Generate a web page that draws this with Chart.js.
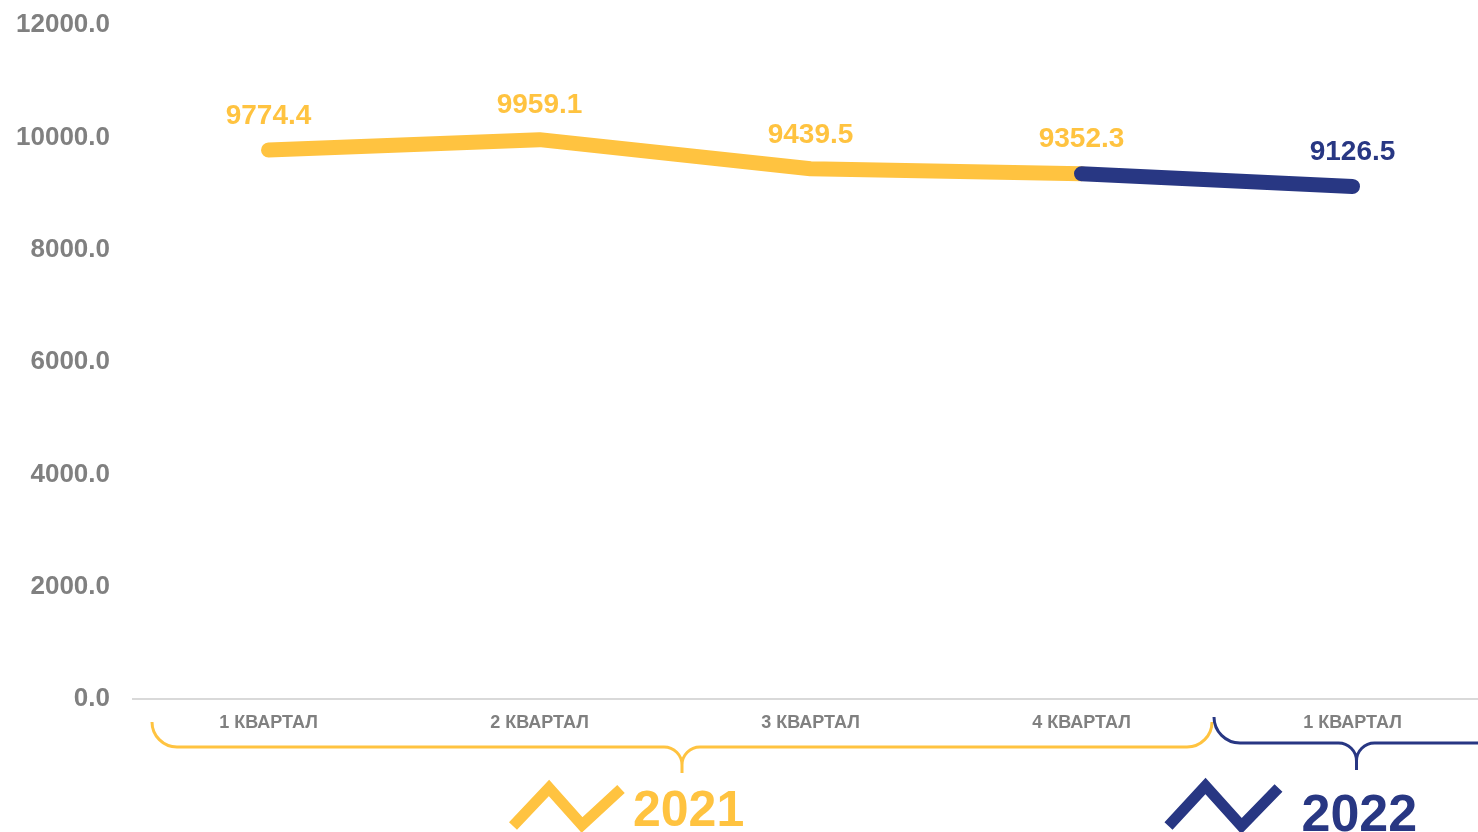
<!DOCTYPE html>
<html>
<head>
<meta charset="utf-8">
<script src="https://cdn.jsdelivr.net/npm/chart.js@4/dist/chart.umd.min.js"></script>
<style>
  html, body { margin: 0; padding: 0; background: #ffffff; overflow: hidden; }
  #wrap { width: 1478px; height: 832px; overflow: hidden; }
  canvas { display: block; }
</style>
</head>
<body>
<div id="wrap"><canvas id="c" width="1490" height="832"></canvas></div>
<script>
// ---- data ----
const categories = ['1 КВАРТАЛ', '2 КВАРТАЛ', '3 КВАРТАЛ', '4 КВАРТАЛ', '1 КВАРТАЛ'];
const values2021 = [9774.4, 9959.1, 9439.5, 9352.3, null];
const values2022 = [null, null, null, 9352.3, 9126.5];
const yMin = 0;
const yMax = 12000;
const yStep = 2000;
const years = ['2021', '2022'];
const yearFirstIndex = [0, 4];
const yearLastIndex = [3, 4];

// ---- styles ----
const YELLOW = '#FFC340';
const BLUE = '#283783';
const GRAY = '#808080';
const FONT = '"Liberation Sans", Arial, sans-serif';

const valueLabels = {
  id: 'valueLabels',
  afterDatasetsDraw(chart) {
    const ctx = chart.ctx;
    const done = {};
    ctx.save();
    ctx.font = 'bold 28px ' + FONT;
    ctx.textAlign = 'center';
    ctx.textBaseline = 'middle';
    chart.data.datasets.forEach((ds, di) => {
      const meta = chart.getDatasetMeta(di);
      ds.data.forEach((v, i) => {
        if (v === null || done[i]) return;
        done[i] = true;
        const pt = meta.data[i];
        ctx.fillStyle = ds.borderColor;
        ctx.fillText(v.toFixed(1), pt.x, pt.y - 34);
      });
    });
    ctx.restore();
  }
};

const yearBraces = {
  id: 'yearBraces',
  afterDraw(chart) {
    const ctx = chart.ctx;
    const xs = chart.scales.x;
    const base = chart.chartArea.bottom;
    const half = (xs.getPixelForValue(1) - xs.getPixelForValue(0)) / 2;
    const styles = [
      { color: YELLOW, inL: 19, inR: -5, openRight: false, top: 23, mid: 48, tip: 74, font: 50, tx: -49, by: 826,
        icon: [[-120, 0], [-84, -38], [-51, -1], [-12, -37]] },
      { color: BLUE, inL: -3, inR: 11, openRight: true, top: 18, mid: 44, tip: 71, font: 52, tx: -55, by: 831,
        icon: [[-133, -5], [-96, -45], [-60, -5], [-23, -43]] }
    ];
    years.forEach((yr, g) => {
      const s = styles[g];
      const L = xs.getPixelForValue(yearFirstIndex[g]) - half + s.inL;
      const R = xs.getPixelForValue(yearLastIndex[g]) + half + s.inR;
      const cx = (L + R) / 2;
      const yTop = base + s.top, yMid = base + s.mid, yTip = base + s.tip;
      const r = yMid - yTop, r2 = 18;
      ctx.save();
      ctx.strokeStyle = s.color;
      ctx.lineWidth = 3;
      ctx.lineCap = 'butt';
      ctx.beginPath();
      ctx.moveTo(L, yTop);
      ctx.arcTo(L, yMid, L + r, yMid, r);
      ctx.lineTo(cx - r2, yMid);
      ctx.arcTo(cx, yMid, cx, yMid + r2, r2);
      ctx.lineTo(cx, yTip);
      ctx.moveTo(cx, yTip);
      ctx.lineTo(cx, yMid + r2);
      ctx.arcTo(cx, yMid, cx + r2, yMid, r2);
      if (s.openRight) {
        ctx.lineTo(R + 20, yMid);
      } else {
        ctx.lineTo(R - r, yMid);
        ctx.arcTo(R, yMid, R, yTop, r);
      }
      ctx.stroke();

      const tx = cx + s.tx;
      ctx.lineWidth = 11;
      ctx.lineJoin = 'miter';
      ctx.beginPath();
      s.icon.forEach((p, k) => {
        if (k === 0) ctx.moveTo(tx + p[0], s.by + p[1]);
        else ctx.lineTo(tx + p[0], s.by + p[1]);
      });
      ctx.stroke();

      ctx.fillStyle = s.color;
      ctx.font = 'bold ' + s.font + 'px ' + FONT;
      ctx.textAlign = 'left';
      ctx.textBaseline = 'alphabetic';
      ctx.fillText(yr, tx, s.by);
      ctx.restore();
    });
  }
};

new Chart(document.getElementById('c'), {
  type: 'line',
  data: {
    labels: categories,
    datasets: [
      { data: values2021, borderColor: YELLOW, backgroundColor: YELLOW, borderWidth: 15,
        borderCapStyle: 'round', borderJoinStyle: 'round', pointRadius: 0, tension: 0, spanGaps: false, order: 2 },
      { data: values2022, borderColor: BLUE, backgroundColor: BLUE, borderWidth: 15,
        borderCapStyle: 'round', borderJoinStyle: 'round', pointRadius: 0, tension: 0, spanGaps: false, order: 1 }
    ]
  },
  options: {
    responsive: false,
    animation: false,
    devicePixelRatio: 1,
    layout: { padding: { top: 25, right: 2, left: 0, bottom: 0 } },
    plugins: { legend: { display: false }, tooltip: { enabled: false } },
    scales: {
      x: {
        offset: true,
        grid: { display: false, drawTicks: false },
        border: { display: true, color: '#D9D9D9', width: 2 },
        ticks: { color: GRAY, font: { family: FONT, size: 18, weight: 'bold' }, padding: 13, maxRotation: 0, autoSkip: false },
        afterFit(scale) { scale.height = 133; }
      },
      y: {
        min: yMin, max: yMax,
        grid: { display: false, drawTicks: false },
        border: { display: false },
        ticks: { stepSize: yStep, color: GRAY, font: { family: FONT, size: 26, weight: 'bold' }, padding: 23,
          callback: v => Number(v).toFixed(1) },
        afterFit(scale) { scale.width = 133; scale.paddingTop = 0; scale.paddingBottom = 0; }
      }
    }
  },
  plugins: [valueLabels, yearBraces]
});
</script>
</body>
</html>
